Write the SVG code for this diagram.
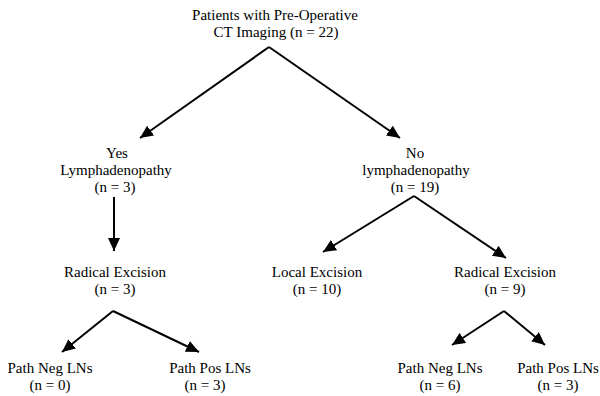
<svg xmlns="http://www.w3.org/2000/svg" width="600" height="396" viewBox="0 0 600 396">
<style>
.t{font-family:'Liberation Serif','Times New Roman','DejaVu Serif',serif;font-size:15px;fill:#000;text-anchor:middle}
.c{stroke:#000;stroke-width:2;fill:none}
</style>
<defs>
<marker id="ah" markerUnits="userSpaceOnUse" markerWidth="14" markerHeight="12" refX="13" refY="6" orient="auto">
<path d="M0,0 L13,6 L0,12 Z" fill="#000"/>
</marker>
</defs>
<rect width="600" height="396" fill="#fff"/>
<g id="connectors">
<path class="c" d="M269,47 L140,138" marker-end="url(#ah)"/>
<path class="c" d="M269,47 L400,138" marker-end="url(#ah)"/>
<path class="c" d="M114,197 L114,251" marker-end="url(#ah)"/>
<path class="c" d="M414,196 L323,252" marker-end="url(#ah)"/>
<path class="c" d="M414,196 L506,258" marker-end="url(#ah)"/>
<path class="c" d="M113,311 L62,352" marker-end="url(#ah)"/>
<path class="c" d="M113,311 L199,352" marker-end="url(#ah)"/>
<path class="c" d="M504,311 L452,345" marker-end="url(#ah)"/>
<path class="c" d="M504,311 L545,345" marker-end="url(#ah)"/>
</g>
<g class="t" font-family="Liberation Serif, serif">
<g id="root">
<text x="275" y="20">Patients with Pre-Operative</text>
<text x="276" y="37">CT Imaging (n = 22)</text>
</g>
<g id="yes">
<text x="117" y="158">Yes</text>
<text x="116" y="175">Lymphadenopathy</text>
<text x="115" y="192">(n = 3)</text>
</g>
<g id="no">
<text x="415" y="158">No</text>
<text x="416" y="175">lymphadenopathy</text>
<text x="415" y="192">(n = 19)</text>
</g>
<g id="radical-left">
<text x="115" y="277">Radical Excision</text>
<text x="115" y="294">(n = 3)</text>
</g>
<g id="local">
<text x="317" y="277">Local Excision</text>
<text x="317" y="294">(n = 10)</text>
</g>
<g id="radical-right">
<text x="505" y="277">Radical Excision</text>
<text x="505" y="294">(n = 9)</text>
</g>
<g id="neg-left">
<text x="50" y="373">Path Neg LNs</text>
<text x="50" y="390">(n = 0)</text>
</g>
<g id="pos-left">
<text x="210" y="373">Path Pos LNs</text>
<text x="205" y="390">(n = 3)</text>
</g>
<g id="neg-right">
<text x="440" y="373">Path Neg LNs</text>
<text x="440" y="390">(n = 6)</text>
</g>
<g id="pos-right">
<text x="558" y="373">Path Pos LNs</text>
<text x="558" y="390">(n = 3)</text>
</g>
</g>
</svg>
